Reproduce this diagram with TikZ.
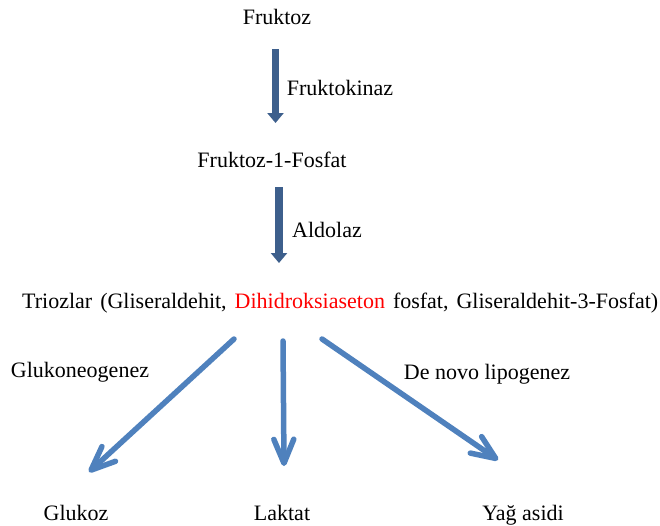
\documentclass[tikz,border=0pt]{standalone}
\usepackage{fontspec}
\setmainfont{Liberation Serif}
\usetikzlibrary{arrows.meta}
\definecolor{darkarrow}{HTML}{3D5F8C}
\definecolor{lightarrow}{HTML}{4F81BD}
\definecolor{redtext}{HTML}{FF0000}
\begin{document}
\begin{tikzpicture}[x=1pt,y=-1pt,
  lbl/.style={inner sep=0pt,anchor=base,font=\rmfamily\fontsize{22}{26}\selectfont},
  darkarr/.style={draw=darkarrow,line width=7.5pt,-{Triangle[width=16pt,length=10pt]}},
  lightarr/.style={draw=lightarrow,line width=5.5pt,line cap=round,-{Straight Barb[width=20pt,length=24pt,line cap=round,line join=round]}}]
\useasboundingbox (0,0) rectangle (660,525);
% texts
\node[lbl] (fruktoz) at (277,24) {Fruktoz};
\node[lbl] (fkinaz) at (340,95) {Fruktokinaz};
\node[lbl] (f1p) at (272,167) {Fruktoz-1-Fosfat};
\node[lbl] (aldolaz) at (327,237) {Aldolaz};
\node[lbl,anchor=base west] (trio) at (22,308) {\makebox[636pt][s]{Triozlar\ \ (Gliseraldehit,\ \ \textcolor{redtext}{Dihidroksiaseton}\ \ fosfat,\ \ Gliseraldehit-3-Fosfat)}};
\node[lbl] (glukoneo) at (80,377) {Glukoneogenez};
\node[lbl] (denovo) at (487,379) {De novo lipogenez};
\node[lbl] (glukoz) at (76,520) {Glukoz};
\node[lbl] (laktat) at (282,520) {Laktat};
\node[lbl] (yag) at (523,520) {Yağ asidi};
% arrow end points
\coordinate (a1s) at (275.5,49);
\coordinate (a1e) at (275.5,123);
\coordinate (a2s) at (279,187);
\coordinate (a2e) at (279,263);
\coordinate (l1s) at (234,339);
\coordinate (l1e) at (89,472);
\coordinate (l2s) at (283,341);
\coordinate (l2e) at (284,466);
\coordinate (l3s) at (322,339);
\coordinate (l3e) at (498,460);
% arrows
\draw[darkarr] (a1s) -- (a1e);
\draw[darkarr] (a2s) -- (a2e);
\draw[lightarr] (l1s) -- (l1e);
\draw[lightarr] (l2s) -- (l2e);
\draw[lightarr] (l3s) -- (l3e);
\end{tikzpicture}
\end{document}
